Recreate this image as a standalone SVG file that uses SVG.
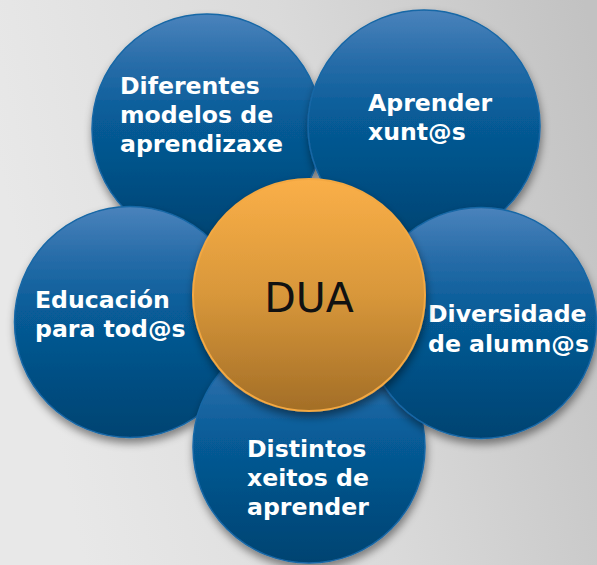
<svg xmlns="http://www.w3.org/2000/svg" width="597" height="565" viewBox="0 0 597 565">
  <defs>
    <linearGradient id="bg" x1="0" y1="0.3" x2="1" y2="0.1">
      <stop offset="0" stop-color="#e8e8e8"/>
      <stop offset="0.5" stop-color="#dadada"/>
      <stop offset="1" stop-color="#c2c2c2"/>
    </linearGradient>
    <linearGradient id="blue" x1="0" y1="0" x2="0" y2="1">
      <stop offset="0" stop-color="#4a83bc"/>
      <stop offset="0.2" stop-color="#2a6eaa"/>
      <stop offset="0.45" stop-color="#075c98"/>
      <stop offset="1" stop-color="#014371"/>
    </linearGradient>
    <linearGradient id="orange" x1="0" y1="0" x2="0" y2="1">
      <stop offset="0" stop-color="#faaf48"/>
      <stop offset="0.5" stop-color="#d8973a"/>
      <stop offset="1" stop-color="#a36e27"/>
    </linearGradient>
    <filter id="shadow" x="-20%" y="-20%" width="140%" height="145%">
      <feDropShadow dx="1" dy="5" stdDeviation="4" flood-color="#000" flood-opacity="0.45"/>
    </filter>
  </defs>
  <style>
    .outer { fill: url(#blue); stroke: #1767a6; stroke-width: 1.5; filter: url(#shadow); }
    .center { fill: url(#orange); stroke: #f3a842; stroke-width: 2; filter: url(#shadow); }
    .lbl { font-family: "DejaVu Sans", Verdana, sans-serif; font-weight: bold; font-size: 23.6px; fill: #ffffff; }
    .main { font-family: "DejaVu Sans", Verdana, sans-serif; font-size: 41px; fill: #111111; }
  </style>
  <rect x="0" y="0" width="597" height="565" fill="url(#bg)"/>
  <g id="connectors"></g>
  <g id="node-diferentes">
    <circle class="outer" cx="207" cy="129" r="115"/>
    <text class="lbl" x="120" y="94">Diferentes</text>
    <text class="lbl" x="120" y="123">modelos de</text>
    <text class="lbl" x="120" y="152">aprendizaxe</text>
  </g>
  <g id="node-aprender">
    <circle class="outer" cx="424" cy="126" r="116"/>
    <text class="lbl" x="368" y="111">Aprender</text>
    <text class="lbl" x="368" y="140">xunt@s</text>
  </g>
  <g id="node-educacion">
    <circle class="outer" cx="130" cy="322" r="115.5"/>
    <text class="lbl" x="35" y="308">Educación</text>
    <text class="lbl" x="35" y="337">para tod@s</text>
  </g>
  <g id="node-distintos">
    <circle class="outer" cx="309" cy="447" r="116"/>
    <text class="lbl" x="247" y="457">Distintos</text>
    <text class="lbl" x="247" y="486">xeitos de</text>
    <text class="lbl" x="247" y="515">aprender</text>
  </g>
  <g id="node-diversidade">
    <circle class="outer" cx="481" cy="323" r="115.5"/>
    <text class="lbl" x="428" y="322">Diversidade</text>
    <text class="lbl" x="428" y="352">de alumn@s</text>
  </g>
  <g id="node-dua">
    <circle class="center" cx="309" cy="295" r="116"/>
    <text class="main" x="309" y="312" text-anchor="middle">DUA</text>
  </g>
</svg>
